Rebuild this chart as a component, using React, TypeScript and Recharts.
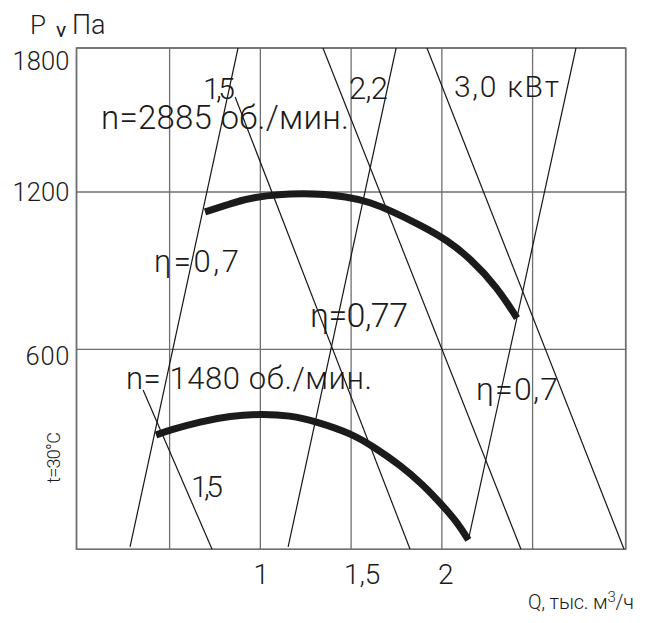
import React from "react";
import { CartesianGrid, Line, LineChart, ReferenceArea, XAxis, YAxis } from "recharts";

// Q in thousand m3/h, P in Pa
const Q_UPPER = [0.695, 0.833, 0.943, 1.237, 1.494, 1.604, 1.714, 1.898, 2.027, 2.155, 2.304, 2.414];
const P_UPPER = [1124, 1154, 1180, 1199, 1182, 1160, 1131, 1068, 1017, 948, 838, 719];

const Q_LOWER = [0.425, 0.503, 0.668, 0.835, 0.998, 1.164, 1.311, 1.5, 1.623, 1.77, 1.898, 2.001, 2.082, 2.146];
const P_LOWER = [343, 358, 383, 400, 406, 402, 383, 348, 308, 253, 193, 133, 83, 28];

// efficiency rays and power lines: [q start, q end], [p start, p end]
const GUIDE_Q = [
  [0.282, 0.877],
  [1.153, 1.748],
  [2.146, 2.739],
  [0.861, 1.825],
  [1.345, 2.436],
  [1.918, 3.004],
  [0.354, 0.734]
];
const GUIDE_P = [
  [7, 1800],
  [7, 1800],
  [28, 1800],
  [1596, 0],
  [1800, 0],
  [1800, 0],
  [478, 0]
];

const X_TICKS = [0.5, 1, 1.5, 2, 2.5];
const X_LABELS: Record<string, string> = { "1": "1", "1.5": "1,5", "2": "2" };

// the printed grid is not evenly spaced, so pressure goes through a piecewise scale
const Y_ANCHOR_PA = [0, 600, 1200, 1800];
const Y_ANCHOR_POS = [0, 200, 357.3, 501.3];
const Y_LABELS = ["600", "1200", "1800"];

const FONT = "Roboto, 'Open Sans', sans-serif";
const WEIGHT = 300;
const INK = "#1b1b1b";
const GRID = "#6f6f6f";

function paToPos(pa: number) {
  for (let i = 1; i < Y_ANCHOR_PA.length; i++) {
    if (pa <= Y_ANCHOR_PA[i] || i === Y_ANCHOR_PA.length - 1) {
      const t = (pa - Y_ANCHOR_PA[i - 1]) / (Y_ANCHOR_PA[i] - Y_ANCHOR_PA[i - 1]);
      return Y_ANCHOR_POS[i - 1] + t * (Y_ANCHOR_POS[i] - Y_ANCHOR_POS[i - 1]);
    }
  }
  return 0;
}

const toPoints = (qs: number[], ps: number[]) => qs.map((q, i) => ({ q, p: paToPos(ps[i]) }));

const upper = toPoints(Q_UPPER, P_UPPER);
const lower = toPoints(Q_LOWER, P_LOWER);
const guides = GUIDE_Q.map((qs, i) => toPoints(qs, GUIDE_P[i]));

const Y_TICKS = Y_ANCHOR_PA.slice(1).map(paToPos);
const Y_DY = [15.7, 9, 22];

const XTick = ({ x, payload }: any) => {
  const label = X_LABELS[String(payload.value)];
  if (!label) return null;
  const dx = label === "1,5" ? 11 : label === "2" ? 4 : 1;
  return (
    <text x={x + dx} y={584} textAnchor="middle" fontSize={28} fontWeight={WEIGHT} fontFamily={FONT} fill={INK}>
      {label}
    </text>
  );
};

const YTick = ({ y, index }: any) => (
  <text
    x={69.5}
    y={y + Y_DY[index]}
    textAnchor="end"
    fontSize={25.5}
    fontWeight={WEIGHT}
    fontFamily={FONT}
    fill={INK}
    textLength={index === 0 ? 44 : 57}
    lengthAdjust="spacing"
  >
    {Y_LABELS[index]}
  </text>
);

const Note = ({ x, y, size, len, children }: any) => (
  <text
    x={x}
    y={y}
    fontSize={size}
    fontWeight={WEIGHT}
    fontFamily={FONT}
    fill={INK}
    textLength={len}
    lengthAdjust="spacing"
  >
    {children}
  </text>
);

export default function App() {
  return (
    <div style={{ position: "relative", width: 646, height: 623, margin: "-8px 0 0 -8px", background: "#fff" }}>
      <LineChart width={646} height={623} margin={{ top: 48, right: 20.3, bottom: 0, left: 0 }}>
        <CartesianGrid stroke={GRID} strokeWidth={1.3} />
        <XAxis
          type="number"
          dataKey="q"
          domain={[-0.013, 3.013]}
          ticks={X_TICKS}
          axisLine={false}
          tickLine={false}
          height={73.7}
          tick={<XTick />}
          allowDataOverflow
        />
        <YAxis
          type="number"
          dataKey="p"
          domain={[0, Y_ANCHOR_POS[Y_ANCHOR_POS.length - 1]]}
          ticks={Y_TICKS}
          axisLine={false}
          tickLine={false}
          width={76.5}
          tick={<YTick />}
          allowDataOverflow
        />
        <ReferenceArea
          x1={-0.013}
          x2={3.013}
          y1={0}
          y2={Y_ANCHOR_POS[Y_ANCHOR_POS.length - 1]}
          fill="none"
          stroke={GRID}
          strokeWidth={1.6}
          ifOverflow="visible"
        />
        {guides.map((g, i) => (
          <Line
            key={i}
            data={g}
            dataKey="p"
            type="linear"
            stroke="#161616"
            strokeWidth={1.2}
            dot={false}
            isAnimationActive={false}
          />
        ))}
        <Line data={upper} dataKey="p" type="basis" stroke={INK} strokeWidth={7} dot={false} isAnimationActive={false} />
        <Line data={lower} dataKey="p" type="basis" stroke={INK} strokeWidth={7} dot={false} isAnimationActive={false} />
      </LineChart>
      <svg width={646} height={623} style={{ position: "absolute", left: 0, top: 0, pointerEvents: "none" }}>
        <text x={30} y={33.5} fontSize={26} fontWeight={WEIGHT} fontFamily={FONT} fill={INK}>
          P
        </text>
        <text x={56} y={37} fontSize={21} fontFamily={FONT} fill={INK}>
          ν
        </text>
        <text x={72} y={33.5} fontSize={27} fontWeight={WEIGHT} fontFamily={FONT} fill={INK}>
          Па
        </text>
        <Note x={203} y={98.5} size={30} len={32}>
          1,5
        </Note>
        <Note x={101} y={129} size={33} len={248}>
          n=2885 об./мин.
        </Note>
        <Note x={349} y={99} size={31} len={39}>
          2,2
        </Note>
        <Note x={454} y={97} size={30} len={105}>
          3,0 кВт
        </Note>
        <Note x={154} y={272} size={31} len={85}>
          η=0,7
        </Note>
        <Note x={310} y={326.5} size={34} len={98}>
          η=0,77
        </Note>
        <Note x={126} y={389} size={31} len={246}>
          n= 1480 об./мин.
        </Note>
        <Note x={476} y={400} size={32} len={82}>
          η=0,7
        </Note>
        <Note x={191} y={496.5} size={30} len={32}>
          1,5
        </Note>
        <text
          transform="translate(60 483) rotate(-90)"
          fontSize={18}
          fontWeight={WEIGHT}
          fontFamily={FONT}
          fill={INK}
          textLength={51}
          lengthAdjust="spacing"
        >
          t=30°C
        </text>
        <text
          x={528}
          y={609}
          fontSize={20}
          fontWeight={WEIGHT}
          fontFamily={FONT}
          fill={INK}
          textLength={106}
          lengthAdjust="spacing"
        >
          Q, тыс. м
          <tspan dy={-7} fontSize={15}>
            3
          </tspan>
          <tspan dy={7}>/ч</tspan>
        </text>
      </svg>
    </div>
  );
}
